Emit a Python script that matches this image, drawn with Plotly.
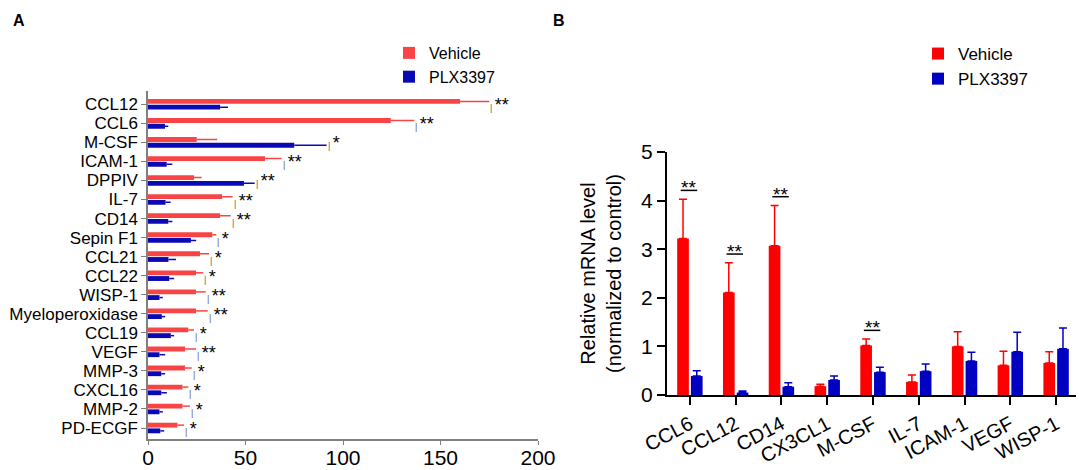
import plotly.graph_objects as go

# Panel A: protein array (horizontal bars)
genes_a = ["CCL12", "CCL6", "M-CSF", "ICAM-1", "DPPIV", "IL-7", "CD14", "Sepin F1",
           "CCL21", "CCL22", "WISP-1", "Myeloperoxidase", "CCL19", "VEGF", "MMP-3",
           "CXCL16", "MMP-2", "PD-ECGF"]
vehicle_a = [160, 124.5, 25, 60, 23.6, 38, 37, 33, 26.7, 24.6, 24.6, 24.6, 20.7, 19, 19, 17.7, 17.7, 15.1]
vehicle_a_err = [15, 12, 10.5, 8.5, 3.9, 5.4, 5.4, 2, 4.7, 3.8, 5, 6, 2.9, 5.6, 3.4, 3, 3.8, 3.4]
plx_a = [37, 8.7, 75, 9.6, 49.2, 9, 10.4, 22, 10.5, 10.9, 5.9, 7.1, 11.7, 5.9, 6.8, 6.8, 5.9, 6.3]
plx_a_err = [4, 1.7, 16.6, 2.9, 5.5, 2.6, 2.1, 2.7, 3.9, 2.5, 1.7, 1.7, 1.7, 2.9, 2, 2.9, 1.7, 2]
sig_a = ["**", "**", "*", "**", "**", "**", "**", "*", "*", "*", "**", "**", "*", "**", "*", "*", "*", "*"]

# Panel B: qPCR relative mRNA level
genes_b = ["CCL6", "CCL12", "CD14", "CX3CL1", "M-CSF", "IL-7", "ICAM-1", "VEGF", "WISP-1"]
vehicle_b = [3.22, 2.11, 3.07, 0.18, 1.02, 0.27, 1.0, 0.61, 0.66]
vehicle_b_err = [0.81, 0.61, 0.83, 0.04, 0.13, 0.14, 0.3, 0.29, 0.23]
plx_b = [0.39, 0.05, 0.17, 0.31, 0.47, 0.49, 0.7, 0.89, 0.95]
plx_b_err = [0.11, 0.03, 0.08, 0.08, 0.1, 0.15, 0.18, 0.4, 0.43]
sig_b = ["**", "**", "**", "", "**", "", "", "", ""]

RED_A, BLUE_A = "#F84444", "#0A0AB4"
RED_B, BLUE_B = "#FF0000", "#0000C0"
FONT = "Liberation Sans, Arial, sans-serif"

# page body adds an 8px margin, so the figure is a bit smaller than the window
W, H, OFF = 1076, 462, 8


def px_x(p):
    return (p - OFF) / W


def px_y(p):
    return 1 - (p - OFF) / H


fig = go.Figure()

fig.add_trace(go.Bar(
    y=genes_a, x=vehicle_a, orientation="h", name="Vehicle",
    marker=dict(color=RED_A, line=dict(width=0)),
    error_x=dict(type="data", array=vehicle_a_err, arrayminus=[0] * len(genes_a),
                 symmetric=False, color=RED_A, thickness=1.5, width=0),
    xaxis="x", yaxis="y", legend="legend"))
fig.add_trace(go.Bar(
    y=genes_a, x=plx_a, orientation="h", name="PLX3397",
    marker=dict(color=BLUE_A, line=dict(width=0)),
    error_x=dict(type="data", array=plx_a_err, arrayminus=[0] * len(genes_a),
                 symmetric=False, color=BLUE_A, thickness=1.5, width=0),
    xaxis="x", yaxis="y", legend="legend"))

fig.add_trace(go.Bar(
    x=genes_b, y=vehicle_b, name="Vehicle",
    marker=dict(color=RED_B, line=dict(width=0)),
    error_y=dict(type="data", array=vehicle_b_err, arrayminus=[0] * len(genes_b),
                 symmetric=False, color=RED_B, thickness=1.5, width=4),
    xaxis="x2", yaxis="y2", legend="legend2"))
fig.add_trace(go.Bar(
    x=genes_b, y=plx_b, name="PLX3397",
    marker=dict(color=BLUE_B, line=dict(width=0)),
    error_y=dict(type="data", array=plx_b_err, arrayminus=[0] * len(genes_b),
                 symmetric=False, color=BLUE_B, thickness=1.5, width=4),
    xaxis="x2", yaxis="y2", legend="legend2"))

annotations = []
shapes = []

# significance marks, panel A: after the longest error bar
for g, v, ve, p, pe, s in zip(genes_a, vehicle_a, vehicle_a_err, plx_a, plx_a_err, sig_a):
    end = max(v + ve, p + pe)
    annotations.append(dict(
        x=end, y=g, xref="x", yref="y", xanchor="left", yanchor="middle",
        xshift=-1, yshift=-1, showarrow=False,
        text="<span style='font-size:9px;color:#666'>| </span>" + s,
        font=dict(family=FONT, size=18, color="black")))

# significance marks, panel B: underlined stars above the group
for i, (v, ve, p, pe, s) in enumerate(zip(vehicle_b, vehicle_b_err, plx_b, plx_b_err, sig_b)):
    if not s:
        continue
    level = max(v + ve, p + pe) + 0.18
    shapes.append(dict(type="line", xref="x2", yref="y2", x0=i - 0.2, x1=i + 0.16,
                       y0=level, y1=level, line=dict(color="black", width=1.5)))
    annotations.append(dict(
        x=i - 0.02, y=level, xref="x2", yref="y2", xanchor="center", yanchor="bottom",
        yshift=-10, showarrow=False, text=s,
        font=dict(family=FONT, size=19, color="black")))

annotations += [
    dict(x=px_x(18.5), y=px_y(20), xref="paper", yref="paper", text="<b>A</b>",
         xanchor="center", yanchor="middle", showarrow=False,
         font=dict(family=FONT, size=16, color="black")),
    dict(x=px_x(558.5), y=px_y(20), xref="paper", yref="paper", text="<b>B</b>",
         xanchor="center", yanchor="middle", showarrow=False,
         font=dict(family=FONT, size=16, color="black")),
]

fig.update_layout(
    width=W, height=H,
    margin=dict(l=0, r=0, t=0, b=0),
    plot_bgcolor="white", paper_bgcolor="white",
    font=dict(family=FONT, color="black"),
    barmode="group",
    bargap=0.4, bargroupgap=0.15,
    xaxis=dict(domain=[px_x(148), px_x(538)], range=[0, 200], dtick=50,
               showgrid=False, zeroline=False, showline=True, linecolor="#808080",
               linewidth=1.5, ticks="outside", tickcolor="#808080", ticklen=4,
               tickfont=dict(size=21), ticklabelstandoff=-5,
               anchor="y", automargin=False),
    yaxis=dict(domain=[px_y(439), px_y(91.3)], autorange="reversed", showgrid=False,
               zeroline=False, showline=True, linecolor="#808080", linewidth=1.5,
               ticks="outside", tickcolor="#808080", ticklen=5,
               tickmode="array", tickvals=genes_a, ticktext=genes_a,
               tickfont=dict(size=17), anchor="x", automargin=False),
    xaxis2=dict(domain=[px_x(667), px_x(1079)], range=[-0.5, 8.5], showgrid=False,
                zeroline=False, showline=True, linecolor="black", linewidth=2,
                ticks="outside", tickcolor="black", ticklen=8, tickwidth=2,
                tickangle=-28, tickfont=dict(size=20), anchor="y2", automargin=False),
    yaxis2=dict(domain=[px_y(395), px_y(152)], range=[0, 5], dtick=1,
                showgrid=False, zeroline=False, showline=True, linecolor="black",
                linewidth=2, ticks="outside", tickcolor="black", ticklen=8, tickwidth=2,
                tickfont=dict(size=21),
                title=dict(text="Relative mRNA level<br>(normalized to control)",
                           font=dict(size=20), standoff=14),
                anchor="x2", automargin=False),
    legend=dict(x=px_x(389), y=px_y(36), xanchor="left", yanchor="top",
                font=dict(size=16), bgcolor="rgba(0,0,0,0)", tracegroupgap=0),
    legend2=dict(x=px_x(918), y=px_y(36), xanchor="left", yanchor="top",
                 font=dict(size=17), bgcolor="rgba(0,0,0,0)", tracegroupgap=0),
    annotations=annotations,
    shapes=shapes,
)

fig.write_html("out.html")
